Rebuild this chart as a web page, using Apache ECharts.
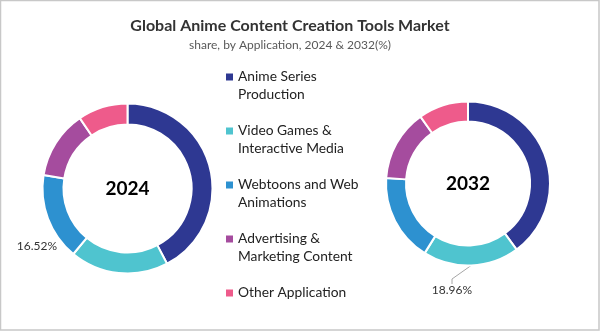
<!DOCTYPE html>
<html><head><meta charset="utf-8">
<script src="https://cdn.jsdelivr.net/npm/echarts@6/dist/echarts.min.js"></script>
<style>html,body{margin:0;padding:0;background:#fff}#c{width:600px;height:331px}</style>
</head><body><div id="c"></div>
<script>
const categories = ['Anime Series\nProduction', 'Video Games &\nInteractive Media', 'Webtoons and Web\nAnimations', 'Advertising &\nMarketing Content', 'Other Application'];
const colors = ['#2e3892', '#4fc4cf', '#2d91d0', '#a54c9e', '#ee5b8b'];
const share2024 = [42.3, 18.7, 16.52, 13.0, 9.48];
const share2032 = [39.9, 18.96, 17.2, 14.1, 9.84];
const labelled2024 = 2;
const labelled2032 = 1;
const years = ['2024', '2032'];

const FONT = 'Lato';
const iconTwo = 'path://M0,0M0,5.5L7,5.5L7,12.5L0,12.5ZM0,36';

function pieData(vals, labelIdx, withLine) {
  return vals.map((v, i) => ({
    name: categories[i], value: v,
    itemStyle: { color: colors[i] },
    label: { show: i === labelIdx },
    labelLine: { show: withLine && i === labelIdx }
  }));
}

const chart = echarts.init(document.getElementById('c'), null, { renderer: 'canvas' });
chart.setOption({
  animation: false,
  title: [{
    text: 'Global Anime Content Creation Tools Market',
    subtext: 'share, by Application, 2024 & 2032(%)',
    left: 285, textAlign: 'center', top: 13, itemGap: 5,
    textStyle: { fontFamily: FONT, fontSize: 16, fontWeight: 'bold', color: '#333333' },
    subtextStyle: { fontFamily: FONT, fontSize: 12, color: '#595959' }
  }],
  legend: {
    orient: 'vertical', left: 221, top: 63,
    itemWidth: 7, itemHeight: 36, itemGap: 18,
    selectedMode: false,
    icon: iconTwo,
    itemStyle: { borderWidth: 0 },
    formatter: n => (n.indexOf('\n') >= 0 ? n : n + '\n '),
    textStyle: { fontFamily: FONT, fontSize: 13.8, lineHeight: 18, color: '#222222' },
    data: categories
  },
  graphic: [
    { type: 'rect', shape: { x: 0.5, y: 0.5, width: 598.5, height: 329.5 }, style: { fill: 'none', stroke: '#c8c8c8', lineWidth: 1.5 }, silent: true },
    { type: 'text', x: 127.5, y: 188.5, style: { text: years[0], fontFamily: FONT, fontSize: 19, fontWeight: 'bold', fill: '#000', textAlign: 'center', textVerticalAlign: 'middle' } },
    { type: 'text', x: 468, y: 183.5, style: { text: years[1], fontFamily: FONT, fontSize: 19, fontWeight: 'bold', fill: '#000', textAlign: 'center', textVerticalAlign: 'middle' } }
  ],
  series: [{
    type: 'pie', center: [127.5, 188.5], radius: [64, 85], startAngle: 90, clockwise: true,
    avoidLabelOverlap: false,
    itemStyle: { borderColor: '#fff', borderWidth: 2 },
    label: { position: 'outside', formatter: '{c}%', fontFamily: FONT, fontSize: 12, color: '#333' },
    labelLine: { show: false },
    labelLayout: { x: 37, y: 246, align: 'center', verticalAlign: 'middle' },
    emphasis: { disabled: true },
    data: pieData(share2024, labelled2024, false)
  }, {
    type: 'pie', center: [468, 183.5], radius: [62, 82], startAngle: 90, clockwise: true,
    avoidLabelOverlap: false,
    itemStyle: { borderColor: '#fff', borderWidth: 2 },
    label: { position: 'outside', formatter: '{c}%', fontFamily: FONT, fontSize: 12, color: '#333' },
    labelLine: { lineStyle: { color: '#a6a6a6', width: 1 }, length: 10, length2: 5 },
    labelLayout: { x: 452, y: 290, align: 'center', verticalAlign: 'middle' },
    emphasis: { disabled: true },
    data: pieData(share2032, labelled2032, true)
  }]
});
</script></body></html>
